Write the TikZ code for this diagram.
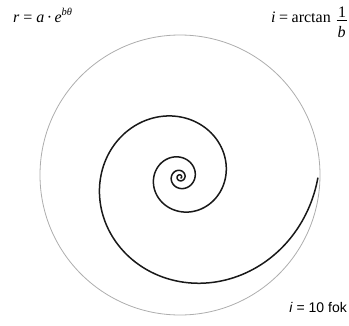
\documentclass[tikz,border=0pt]{standalone}
\usepackage{fontspec}
\setmainfont{Liberation Serif}
\newfontfamily\arialf{Liberation Sans}
\begin{document}
\begin{tikzpicture}[x=1pt,y=-1pt]
\tikzset{
  lbl/.style={inner sep=0pt, anchor=base west, font=\fontsize{16}{18}\selectfont},
  frc/.style={inner sep=0pt, anchor=base, font=\fontsize{16}{18}\selectfont},
  circ/.style={draw=black!32, line width=0.8pt},
  spir/.style={draw=black!90, line width=1.5pt, line cap=round},
  bar/.style={draw=black, line width=0.7pt}
}
\useasboundingbox (0,0) rectangle (349,325);
% labels
\node[lbl] (eqr) at (13,22) {\textit{r}\hspace{0.25em}=\hspace{0.25em}\textit{a}\hspace{0.15em}·\hspace{0.15em}\textit{e}\raisebox{0.42em}{\fontsize{10.5}{12}\selectfont\textit{bθ}}};
\node[lbl] (eqi) at (271,22) {\textit{i}\hspace{0.22em}=\hspace{0.22em}arctan};
\node[frc] (num) at (342,17) {1};
\node[frc] (den) at (341.5,37) {\textit{b}};
\coordinate (barl) at (336.5,20.5);
\coordinate (barr) at (347,20.5);
\draw[bar] (barl) -- (barr);
\node[inner sep=0pt, anchor=base east, font=\arialf\fontsize{14}{16}\selectfont] (eqfok) at (347,312) {\textit{i} = 10 fok};
% circle
\coordinate (cc) at (180,175);
\draw[circ] (cc) circle[radius=140pt];
% spiral
\coordinate (sc) at (180,177);
\draw[spir] plot[domain=-26:0, samples=700, smooth, variable=\t]
  ({180+138*exp(0.1763*\t)*cos(\t r)}, {177-138*exp(0.1763*\t)*sin(\t r)});
\end{tikzpicture}
\end{document}
